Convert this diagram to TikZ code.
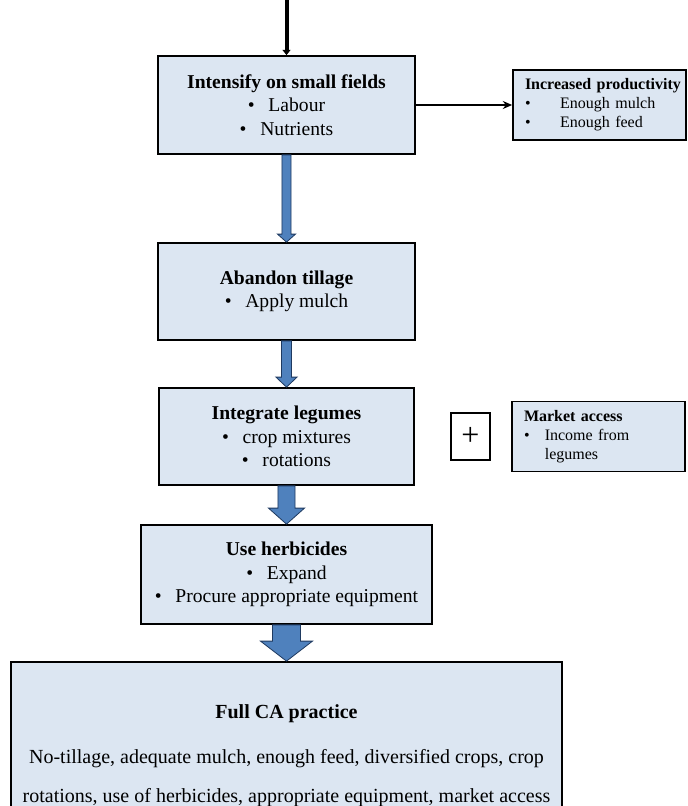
\documentclass[tikz,border=0pt]{standalone}
\usepackage{fontspec}
\setmainfont{Liberation Serif}
\usetikzlibrary{positioning,calc,arrows.meta}
\definecolor{boxfill}{HTML}{DCE6F2}
\definecolor{arrowblue}{HTML}{4F81BD}
\definecolor{arrowline}{HTML}{1F3A60}
\newcommand{\bul}[1][1.05em]{\makebox[#1][l]{\textbullet}}
\newcommand{\ind}{\hspace*{5.25pt}}
\newcommand{\blockarrow}[5]{%
  \draw[fill=arrowblue,draw=arrowline,line width=0.6pt] let \p1=(#1.south), \p2=(#2.north) in
    (\x1-#3,\y1) -- (\x1+#3,\y1) -- (\x1+#3,\y2+#5) -- (\x1+#4,\y2+#5)
    -- (\x1,\y2) -- (\x1-#4,\y2+#5) -- (\x1-#3,\y2+#5) -- cycle;}

\begin{document}
\begin{tikzpicture}[x=0.75pt,y=-0.75pt,
box/.style={draw,line width=1.3pt,fill=boxfill,align=center,
    font=\fontsize{14.7}{17.6}\selectfont},
sidebox/.style={draw,line width=1.3pt,fill=boxfill,align=left,
    text width=122.25pt,inner xsep=3.75pt,minimum height=52.5pt,
    font=\fontsize{12}{14.3}\selectfont}]
\useasboundingbox (0,0) rectangle (688,806);
\clip (0,0) rectangle (688,806);

\node (intens) [box,minimum width=192.75pt,minimum height=73.5pt] at (286.5,105)
    {\textbf{Intensify on small fields}\\ \bul Labour\\ \bul Nutrients};
\node (abandon) [box,minimum width=192.75pt,minimum height=72.75pt,below=65.45pt of intens]
    {\textbf{Abandon tillage}\\ \bul Apply mulch};
\node (legumes) [box,minimum width=191.25pt,minimum height=72.75pt,below=34.7pt of abandon]
    {\textbf{Integrate legumes}\\ \bul crop mixtures\\ \bul rotations};
\node (herbic) [box,minimum width=218.25pt,minimum height=74.25pt,below=28.7pt of legumes]
    {\textbf{Use herbicides}\\ \bul Expand\\ \bul Procure appropriate equipment};
\node (fullca) [box,minimum width=413.25pt,inner ysep=31.75pt,below=27.2pt of herbic,
    font=\fontsize{15}{18}\selectfont]
    {\textbf{Full CA practice}\\[15.75pt]
     No-tillage, adequate mulch, enough feed, diversified crops, crop\\[11.25pt]
     rotations, use of herbicides, appropriate equipment, market access};

\node (prod) [sidebox,right=72.2pt of intens]
    {\ind\textbf{Increased productivity}\\ \ind\bul[2.2em]Enough mulch\\ \ind\bul[2.2em]Enough feed};
\node (plus) [draw,line width=1.3pt,minimum width=29.25pt,minimum height=35.25pt,
    inner sep=0pt,right=26.45pt of legumes,font=\fontsize{24}{24}\selectfont] {+};
\node (market) [sidebox,right=15.2pt of plus]
    {\ind\textbf{Market access}\\ \ind\bul[1.3em]Income from\\ \ind\hspace*{1.3em}legumes};

\coordinate (entry) at (intens.north |- 0,-2);
\draw[line width=3pt,-{Triangle[length=4pt,width=6pt]}] (entry) -- (intens.north);
\draw[line width=1.1pt,-{Stealth[length=7pt,width=6pt]}] (intens.east) -- (prod.west);

\blockarrow{intens}{abandon}{3.4pt}{6.75pt}{6pt}
\blockarrow{abandon}{legumes}{3.75pt}{7.9pt}{7.5pt}
\blockarrow{legumes}{herbic}{6.4pt}{13.5pt}{12pt}
\blockarrow{herbic}{fullca}{10.5pt}{19.5pt}{15pt}
\end{tikzpicture}
\end{document}
